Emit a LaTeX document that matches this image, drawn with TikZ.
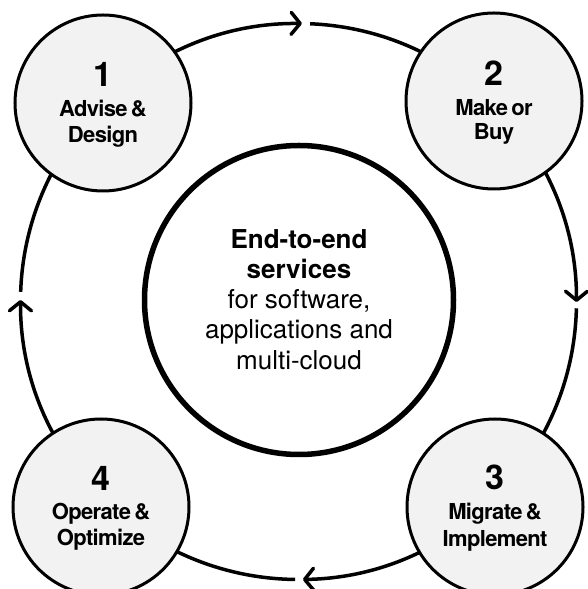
\documentclass[tikz,border=0pt]{standalone}
\usepackage{fontspec}
\setmainfont{TeX Gyre Heros}
\newfontfamily\steplabelfont{TeX Gyre Heros}[LetterSpace=-3,WordSpace=0.6]
\usetikzlibrary{arrows.meta}
\definecolor{stepgray}{HTML}{F2F2F2}
\begin{document}
\begin{tikzpicture}[x=1pt,y=1pt,
  ring/.style={line width=3.5pt, -{Straight Barb[length=9pt,width=22pt,round]}},
  stepcircle/.style={circle, draw=black, line width=3pt, fill=stepgray, minimum size=176pt, inner sep=0pt},
  hub/.style={circle, draw=black, line width=5.5pt, fill=white, minimum size=309pt, inner sep=0pt},
  num/.style={anchor=base, font=\bfseries\fontsize{34}{34}\selectfont, inner sep=0pt},
  lbl/.style={anchor=base, font=\steplabelfont\bfseries\fontsize{22}{22}\selectfont, inner sep=0pt},
  ctb/.style={anchor=base, font=\bfseries\fontsize{26}{26}\selectfont, inner sep=0pt},
  ctr/.style={anchor=base, font=\fontsize{26}{26}\selectfont, inner sep=0pt}
]
\useasboundingbox (0,0) rectangle (587,589);
\coordinate (o) at (298.5,287.5);
% cycle ring
\draw[ring] ([shift={(178:278)}]o) arc[start angle=178,end angle=89.3,radius=278];
\draw[ring] ([shift={(87.6:278)}]o) arc[start angle=87.6,end angle=-0.1,radius=278];
\draw[ring] ([shift={(-1.4:278)}]o) arc[start angle=-1.4,end angle=-89.1,radius=278];
\draw[ring] ([shift={(-90.7:278)}]o) arc[start angle=-90.7,end angle=-180.3,radius=278];
% hub
\node[hub] (hub) at (299,289) {};
\node[ctb] (t1) at ([yshift=51pt]hub.center) {End-to-end};
\node[ctb] (t2) at ([yshift=21pt]hub.center) {services};
\node[ctr] (t3) at ([yshift=-9pt]hub.center) {for software,};
\node[ctr] (t4) at ([yshift=-39pt]hub.center) {applications and};
\node[ctr] (t5) at ([yshift=-70pt]hub.center) {multi-cloud};
% steps
\node[stepcircle] (c1) at (103,486) {};
\node[stepcircle] (c2) at (494,488) {};
\node[stepcircle] (c3) at (495,82) {};
\node[stepcircle] (c4) at (101,82) {};
\node[num] (n1) at ([yshift=16pt]c1.center) {1};
\node[lbl] (l1a) at ([yshift=-14pt]c1.center) {Advise \&};
\node[lbl] (l1b) at ([yshift=-40pt]c1.center) {Design};
\node[num] (n2) at ([yshift=15pt]c2.center) {2};
\node[lbl] (l2a) at ([yshift=-15pt]c2.center) {Make or};
\node[lbl] (l2b) at ([yshift=-39pt]c2.center) {Buy};
\node[num] (n3) at ([yshift=17pt]c3.center) {3};
\node[lbl] (l3a) at ([yshift=-13pt]c3.center) {Migrate \&};
\node[lbl] (l3b) at ([yshift=-40pt]c3.center) {Implement};
\node[num] (n4) at ([yshift=16pt]c4.center) {4};
\node[lbl] (l4a) at ([yshift=-13pt]c4.center) {Operate \&};
\node[lbl] (l4b) at ([yshift=-39pt]c4.center) {Optimize};
\end{tikzpicture}
\end{document}
